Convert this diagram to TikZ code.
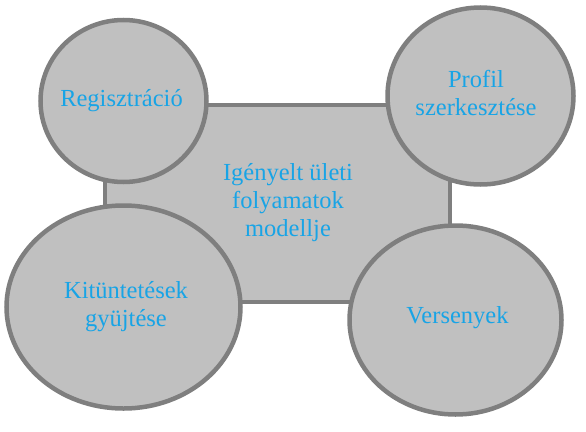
\documentclass[tikz,border=0pt]{standalone}
\usepackage{fontspec}
\setmainfont{Liberation Serif}
\definecolor{fillgray}{HTML}{C0C0C0}
\definecolor{linegray}{HTML}{7F7F7F}
\definecolor{txtblue}{HTML}{18A4E6}
\begin{document}
\begin{tikzpicture}[x=1pt,y=-1pt,
  shapeline/.style={draw=linegray,fill=fillgray,line width=4.5pt},
  lbl/.style={text=txtblue,font=\fontsize{24.5}{28}\selectfont,align=center}]
\useasboundingbox (0,0) rectangle (586,431);
\draw[shapeline] (105,105) rectangle (450,302);
\node[lbl] (core) at (288,203) {Igényelt ületi\\folyamatok\\modellje};
\draw[shapeline] (123.5,101) ellipse [x radius=83, y radius=81];
\node[lbl] (reg) at (121.5,101) {Regisztráció};
\draw[shapeline] (480.5,96) ellipse [x radius=93, y radius=88.5];
\node[lbl] (prof) at (476,93) {Profil\\szerkesztése};
\draw[shapeline] (123.5,307) ellipse [x radius=117, y radius=101.5];
\node[lbl] (kit) at (126,307) {Kitüntetések\\gyüjtése};
\draw[shapeline] (455.5,320) ellipse [x radius=106, y radius=94.5];
\node[lbl] (vers) at (457.5,318) {Versenyek};
\end{tikzpicture}
\end{document}
